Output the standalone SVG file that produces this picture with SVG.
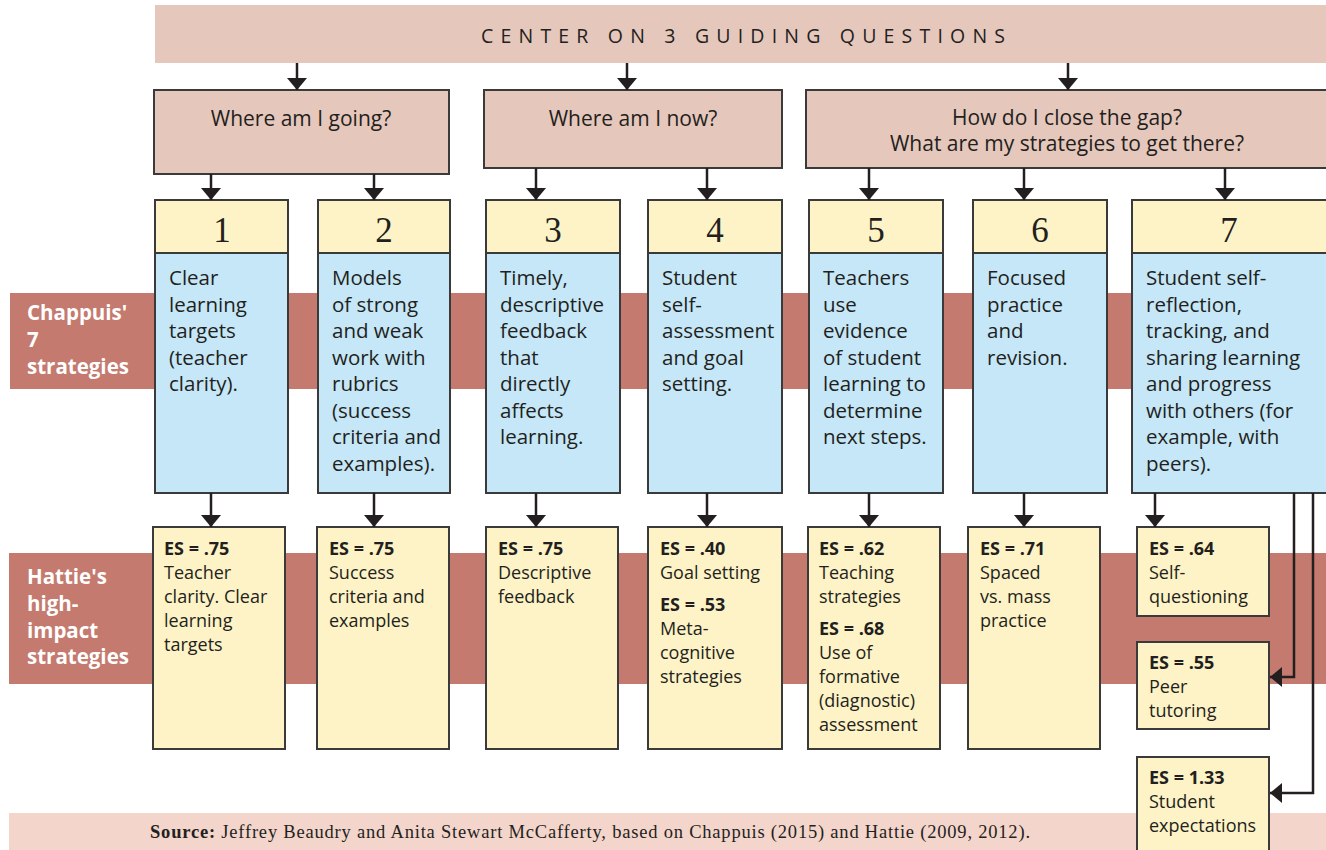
<svg xmlns="http://www.w3.org/2000/svg" width="1326" height="850" viewBox="0 0 1326 850">
<style>
.q{fill:#E6C7BC;stroke:#3a3a3a;stroke-width:2}
.hd{fill:#FDF3C6;stroke:#3a3a3a;stroke-width:2}
.bd{fill:#C5E7F7;stroke:#3a3a3a;stroke-width:2}
.es{fill:#FDF3C6;stroke:#3a3a3a;stroke-width:2}
.band{fill:#C47A6E}
.sans{font-family:"Open Sans","Noto Sans",sans-serif;fill:#231F20}
.body{font-size:20.5px}
.qt{font-size:21px}
.small{font-size:18px}
.b{font-weight:bold}
.lab{font-family:"Open Sans","Noto Sans",sans-serif;font-weight:bold;font-size:20.5px;fill:#ffffff}
.num{font-family:"Liberation Serif",serif;font-size:35px;fill:#231F20;text-anchor:middle}
.con{stroke:#231F20;stroke-width:2.5;fill:none}
</style>
<defs>
<marker id="ah" viewBox="0 0 10 10" refX="10" refY="5" markerWidth="12" markerHeight="20" markerUnits="userSpaceOnUse" orient="auto" preserveAspectRatio="none">
<path d="M0,0 L10,5 L0,10 z" fill="#231F20"/>
</marker>
</defs>
<rect x="0" y="0" width="1326" height="850" fill="#ffffff"/>

<!-- bands -->
<g id="band-chappuis">
<rect class="band" x="10" y="293" width="1316" height="96"/>
<text class="lab"><tspan x="27" y="320">Chappuis'</tspan><tspan x="27" y="347">7</tspan><tspan x="27" y="374">strategies</tspan></text>
</g>
<g id="band-hattie">
<rect class="band" x="9" y="553" width="1317" height="131"/>
<text class="lab"><tspan x="27" y="584">Hattie's</tspan><tspan x="27" y="611">high-</tspan><tspan x="27" y="638">impact</tspan><tspan x="27" y="664">strategies</tspan></text>
</g>
<g id="source">
<rect x="9" y="813" width="1317" height="37" fill="#F4D5CB"/>
<text x="150" y="838" font-family="Liberation Serif,serif" font-size="18.5" fill="#231F20" textLength="880" lengthAdjust="spacing"><tspan font-weight="bold">Source:</tspan> Jeffrey Beaudry and Anita Stewart McCafferty, based on Chappuis (2015) and Hattie (2009, 2012).</text>
</g>

<!-- title -->
<g id="title">
<rect x="155" y="5" width="1171" height="58" fill="#E6C7BC"/>
<text class="sans" x="481" y="43" font-size="19.5" textLength="524" lengthAdjust="spacing">CENTER ON 3 GUIDING QUESTIONS</text>
</g>

<!-- questions -->
<g id="q1">
<rect class="q" x="154" y="90" width="295" height="84"/>
<text class="sans qt" x="301" y="126" text-anchor="middle">Where am I going?</text>
</g>
<g id="q2">
<rect class="q" x="484" y="90" width="298" height="78"/>
<text class="sans qt" x="633" y="126" text-anchor="middle">Where am I now?</text>
</g>
<g id="q3">
<rect class="q" x="806" y="90" width="525" height="78"/>
<text class="sans qt" x="1067" y="125" text-anchor="middle">How do I close the gap?</text>
<text class="sans qt" x="1067" y="151" text-anchor="middle">What are my strategies to get there?</text>
</g>

<!-- strategy boxes -->
<g id="s1">
<rect class="hd" x="155" y="200" width="133" height="53"/>
<rect class="bd" x="155" y="253" width="133" height="240"/>
<text class="num" x="222" y="242">1</text>
<text class="sans body"><tspan x="169" y="285">Clear</tspan><tspan x="169" y="311.5">learning</tspan><tspan x="169" y="338">targets</tspan><tspan x="169" y="364.5">(teacher</tspan><tspan x="169" y="391">clarity).</tspan></text>
</g>
<g id="s2">
<rect class="hd" x="318" y="200" width="132" height="53"/>
<rect class="bd" x="318" y="253" width="132" height="240"/>
<text class="num" x="384" y="242">2</text>
<text class="sans body"><tspan x="332" y="285">Models</tspan><tspan x="332" y="311.5">of strong</tspan><tspan x="332" y="338">and weak</tspan><tspan x="332" y="364.5">work with</tspan><tspan x="332" y="391">rubrics</tspan><tspan x="332" y="417.5">(success</tspan><tspan x="332" y="444">criteria and</tspan><tspan x="332" y="470.5">examples).</tspan></text>
</g>
<g id="s3">
<rect class="hd" x="486" y="200" width="134" height="53"/>
<rect class="bd" x="486" y="253" width="134" height="240"/>
<text class="num" x="553" y="242">3</text>
<text class="sans body"><tspan x="500" y="285">Timely,</tspan><tspan x="500" y="311.5">descriptive</tspan><tspan x="500" y="338">feedback</tspan><tspan x="500" y="364.5">that</tspan><tspan x="500" y="391">directly</tspan><tspan x="500" y="417.5">affects</tspan><tspan x="500" y="444">learning.</tspan></text>
</g>
<g id="s4">
<rect class="hd" x="648" y="200" width="134" height="53"/>
<rect class="bd" x="648" y="253" width="134" height="240"/>
<text class="num" x="715" y="242">4</text>
<text class="sans body"><tspan x="662" y="285">Student</tspan><tspan x="662" y="311.5">self-</tspan><tspan x="662" y="338">assessment</tspan><tspan x="662" y="364.5">and goal</tspan><tspan x="662" y="391">setting.</tspan></text>
</g>
<g id="s5">
<rect class="hd" x="809" y="200" width="134" height="53"/>
<rect class="bd" x="809" y="253" width="134" height="240"/>
<text class="num" x="876" y="242">5</text>
<text class="sans body"><tspan x="823" y="285">Teachers</tspan><tspan x="823" y="311.5">use</tspan><tspan x="823" y="338">evidence</tspan><tspan x="823" y="364.5">of student</tspan><tspan x="823" y="391">learning to</tspan><tspan x="823" y="417.5">determine</tspan><tspan x="823" y="444">next steps.</tspan></text>
</g>
<g id="s6">
<rect class="hd" x="973" y="200" width="134" height="53"/>
<rect class="bd" x="973" y="253" width="134" height="240"/>
<text class="num" x="1040" y="242">6</text>
<text class="sans body"><tspan x="987" y="285">Focused</tspan><tspan x="987" y="311.5">practice</tspan><tspan x="987" y="338">and</tspan><tspan x="987" y="364.5">revision.</tspan></text>
</g>
<g id="s7">
<rect class="hd" x="1132" y="200" width="200" height="53"/>
<rect class="bd" x="1132" y="253" width="200" height="240"/>
<text class="num" x="1229" y="242">7</text>
<text class="sans body"><tspan x="1146" y="285">Student self-</tspan><tspan x="1146" y="311.5">reflection,</tspan><tspan x="1146" y="338">tracking, and</tspan><tspan x="1146" y="364.5">sharing learning</tspan><tspan x="1146" y="391">and progress</tspan><tspan x="1146" y="417.5">with others (for</tspan><tspan x="1146" y="444">example, with</tspan><tspan x="1146" y="470.5">peers).</tspan></text>
</g>

<!-- effect size boxes -->
<g id="e1">
<rect class="es" x="153" y="527" width="132" height="222"/>
<text class="sans small"><tspan x="164" y="555" class="b">ES = .75</tspan><tspan x="164" y="579">Teacher</tspan><tspan x="164" y="603">clarity. Clear</tspan><tspan x="164" y="627">learning</tspan><tspan x="164" y="651">targets</tspan></text>
</g>
<g id="e2">
<rect class="es" x="317" y="527" width="132" height="222"/>
<text class="sans small"><tspan x="329" y="555" class="b">ES = .75</tspan><tspan x="329" y="579">Success</tspan><tspan x="329" y="603">criteria and</tspan><tspan x="329" y="627">examples</tspan></text>
</g>
<g id="e3">
<rect class="es" x="486" y="527" width="132" height="222"/>
<text class="sans small"><tspan x="498" y="555" class="b">ES = .75</tspan><tspan x="498" y="579">Descriptive</tspan><tspan x="498" y="603">feedback</tspan></text>
</g>
<g id="e4">
<rect class="es" x="648" y="527" width="134" height="222"/>
<text class="sans small"><tspan x="660" y="555" class="b">ES = .40</tspan><tspan x="660" y="579">Goal setting</tspan><tspan x="660" y="611" class="b">ES = .53</tspan><tspan x="660" y="635">Meta-</tspan><tspan x="660" y="659">cognitive</tspan><tspan x="660" y="683">strategies</tspan></text>
</g>
<g id="e5">
<rect class="es" x="808" y="527" width="132" height="222"/>
<text class="sans small"><tspan x="819" y="555" class="b">ES = .62</tspan><tspan x="819" y="579">Teaching</tspan><tspan x="819" y="603">strategies</tspan><tspan x="819" y="635" class="b">ES = .68</tspan><tspan x="819" y="659">Use of</tspan><tspan x="819" y="683">formative</tspan><tspan x="819" y="707">(diagnostic)</tspan><tspan x="819" y="731">assessment</tspan></text>
</g>
<g id="e6">
<rect class="es" x="968" y="527" width="132" height="222"/>
<text class="sans small"><tspan x="980" y="555" class="b">ES = .71</tspan><tspan x="980" y="579">Spaced</tspan><tspan x="980" y="603">vs. mass</tspan><tspan x="980" y="627">practice</tspan></text>
</g>
<g id="e7a">
<rect class="es" x="1137" y="527" width="132" height="89"/>
<text class="sans small"><tspan x="1149" y="555" class="b">ES = .64</tspan><tspan x="1149" y="579">Self-</tspan><tspan x="1149" y="603">questioning</tspan></text>
</g>
<g id="e7b">
<rect class="es" x="1137" y="642" width="132" height="87"/>
<text class="sans small"><tspan x="1149" y="669" class="b">ES = .55</tspan><tspan x="1149" y="693">Peer</tspan><tspan x="1149" y="717">tutoring</tspan></text>
</g>
<g id="e7c">
<rect class="es" x="1137" y="757" width="132" height="100"/>
<text class="sans small"><tspan x="1149" y="784" class="b">ES = 1.33</tspan><tspan x="1149" y="808">Student</tspan><tspan x="1149" y="832">expectations</tspan></text>
</g>

<!-- connectors -->
<g id="connectors">
<line class="con" x1="297" y1="63" x2="297" y2="90" marker-end="url(#ah)"/>
<line class="con" x1="627" y1="63" x2="627" y2="90" marker-end="url(#ah)"/>
<line class="con" x1="1068" y1="63" x2="1068" y2="90" marker-end="url(#ah)"/>
<line class="con" x1="211" y1="174" x2="211" y2="200" marker-end="url(#ah)"/>
<line class="con" x1="374" y1="174" x2="374" y2="200" marker-end="url(#ah)"/>
<line class="con" x1="536" y1="168" x2="536" y2="200" marker-end="url(#ah)"/>
<line class="con" x1="707" y1="168" x2="707" y2="200" marker-end="url(#ah)"/>
<line class="con" x1="869" y1="168" x2="869" y2="200" marker-end="url(#ah)"/>
<line class="con" x1="1024" y1="168" x2="1024" y2="200" marker-end="url(#ah)"/>
<line class="con" x1="1225" y1="168" x2="1225" y2="200" marker-end="url(#ah)"/>
<line class="con" x1="211" y1="493" x2="211" y2="527" marker-end="url(#ah)"/>
<line class="con" x1="374" y1="493" x2="374" y2="527" marker-end="url(#ah)"/>
<line class="con" x1="536" y1="493" x2="536" y2="527" marker-end="url(#ah)"/>
<line class="con" x1="707" y1="493" x2="707" y2="527" marker-end="url(#ah)"/>
<line class="con" x1="869" y1="493" x2="869" y2="527" marker-end="url(#ah)"/>
<line class="con" x1="1024" y1="493" x2="1024" y2="527" marker-end="url(#ah)"/>
<line class="con" x1="1155" y1="493" x2="1155" y2="527" marker-end="url(#ah)"/>
<polyline class="con" points="1294,493 1294,677 1270,677" marker-end="url(#ah)"/>
<polyline class="con" points="1313,493 1313,793 1270,793" marker-end="url(#ah)"/>
</g>
</svg>
